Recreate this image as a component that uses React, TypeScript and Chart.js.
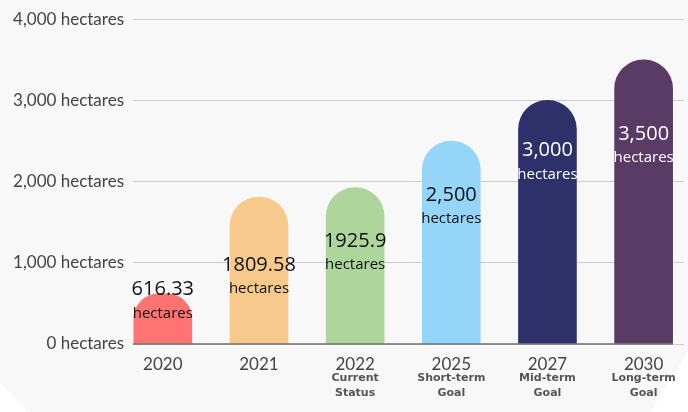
import React, { useEffect, useRef } from "react";
import { Chart, registerables } from "chart.js";

Chart.register(...registerables);

const years = ["2020", "2021", "2022", "2025", "2027", "2030"];
const subLabels: string[][] = [
  [],
  [],
  ["Current", "Status"],
  ["Short-term", "Goal"],
  ["Mid-term", "Goal"],
  ["Long-term", "Goal"],
];
const hectares = [616.33, 1809.58, 1925.9, 2500, 3000, 3500];
const valueTexts = ["616.33", "1809.58", "1925.9", "2,500", "3,000", "3,500"];
const unitText = "hectares";
const barColors = ["#ff7373", "#f7c98c", "#aed69c", "#96d5fa", "#2e3169", "#5a3b66"];
const labelColors = ["#111111", "#111111", "#111111", "#111111", "#ffffff", "#ffffff"];
const yMax = 4000;
const yStep = 1000;

// style: vertical drop of the value label from the bar top
const labelDrop = [-4.5, 68, 53.5, 54, 50, 74];

const bgPlugin = {
  id: "bg",
  beforeDraw(chart: any) {
    const { ctx, width, height } = chart;
    ctx.save();
    ctx.fillStyle = "#f8f8f8";
    ctx.fillRect(0, 0, width, height);
    ctx.fillStyle = "#ffffff";
    ctx.beginPath();
    ctx.moveTo(0, 383);
    ctx.lineTo(0, height);
    ctx.lineTo(28, height);
    ctx.closePath();
    ctx.fill();
    ctx.beginPath();
    ctx.moveTo(width, 352);
    ctx.lineTo(width, height);
    ctx.lineTo(650, height);
    ctx.closePath();
    ctx.fill();
    ctx.restore();
  },
};

const decoPlugin = {
  id: "deco",
  afterDatasetsDraw(chart: any) {
    const { ctx, chartArea } = chart;
    const meta = chart.getDatasetMeta(0);
    const xs = chart.scales.x;
    ctx.save();
    // baseline
    const lastBar = meta.data[meta.data.length - 1];
    ctx.strokeStyle = "#6f6f6f";
    ctx.lineWidth = 1.5;
    ctx.beginPath();
    ctx.moveTo(chartArea.left, chartArea.bottom);
    ctx.lineTo(lastBar.x + lastBar.width / 2, chartArea.bottom);
    ctx.stroke();
    // in-bar labels
    ctx.textAlign = "center";
    ctx.textBaseline = "middle";
    meta.data.forEach((bar: any, i: number) => {
      const y0 = bar.y + labelDrop[i];
      ctx.fillStyle = labelColors[i];
      ctx.font = "20px 'Open Sans'";
      ctx.fillText(valueTexts[i], bar.x, y0);
      ctx.font = "15px 'Open Sans'";
      ctx.fillText(unitText, bar.x, y0 + 24);
    });
    // sub labels
    ctx.fillStyle = "#555555";
    ctx.font = "bold 11px 'DejaVu Sans'";
    subLabels.forEach((lines, i) => {
      const x = xs.getPixelForValue(i);
      lines.forEach((t, j) => {
        ctx.fillText(t, x, 378 + j * 15);
      });
    });
    ctx.restore();
  },
};

export default function App() {
  const ref = useRef<HTMLCanvasElement>(null);
  useEffect(() => {
    document.body.style.margin = "0";
    const chart = new Chart(ref.current!, {
      type: "bar",
      data: {
        datasets: [
          {
            data: hectares.map((v, i) => ({ x: i, y: v })),
            backgroundColor: barColors,
            borderRadius: { topLeft: 29, topRight: 29, bottomLeft: 0, bottomRight: 0 },
            borderSkipped: "bottom",
            barThickness: 58,
          },
        ],
      },
      options: {
        animation: false,
        responsive: false,
        devicePixelRatio: 1,
        layout: { padding: { top: 19, right: 4, left: 0, bottom: 0 } },
        plugins: { legend: { display: false }, tooltip: { enabled: false } },
        scales: {
          x: {
            type: "linear",
            offset: false,
            min: -0.31,
            max: 5.42,
            grid: { display: false },
            border: { display: false },
            afterBuildTicks(scale: any) {
              scale.ticks = years.map((_, i) => ({ value: i }));
            },
            afterFit(scale: any) {
              scale.height = 68;
            },
            ticks: {
              padding: 2,
              color: "#444444",
              font: { family: "Lato", size: 17 },
              callback: (v: any) => years[v as number] ?? "",
            },
          },
          y: {
            min: 0,
            max: yMax,
            grid: { color: "#cccccc", lineWidth: 1, drawTicks: false },
            border: { display: false },
            afterFit(scale: any) {
              scale.width = 133;
            },
            ticks: {
              stepSize: yStep,
              padding: 9,
              color: "#444444",
              font: { family: "Lato", size: 17 },
              callback: (v: any) => Number(v).toLocaleString("en-US") + " hectares",
            },
          },
        },
      },
      plugins: [bgPlugin, decoPlugin],
    });
    return () => chart.destroy();
  }, []);
  return (
    <div style={{ position: "absolute", left: 0, top: 0, width: 688, height: 412 }}>
      <canvas ref={ref} width={688} height={412} />
    </div>
  );
}
